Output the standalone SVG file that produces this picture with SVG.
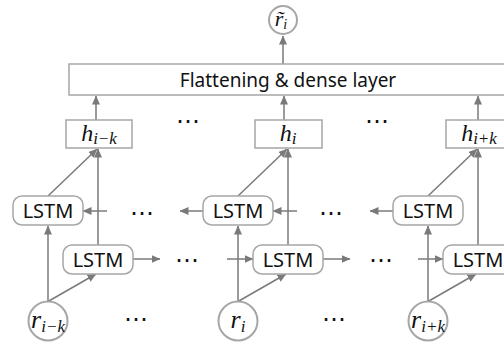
<svg xmlns="http://www.w3.org/2000/svg" width="504" height="346" viewBox="0 0 504 346">
<defs>
<marker id="ah" markerWidth="9" markerHeight="8" refX="8.5" refY="4" orient="auto" markerUnits="userSpaceOnUse">
<path d="M0,0 L9,4 L0,8 z" fill="#7a7a7a"/>
</marker>
<style>
.box{fill:#fff;stroke:#a6a6a6;stroke-width:1.5}
.lstm{fill:#fff;stroke:#a6a6a6;stroke-width:1.5}
.circ{fill:#fff;stroke:#a6a6a6;stroke-width:2}
.sans{font-family:"Noto Sans","Open Sans","DejaVu Sans",sans-serif;fill:#111}
.math{font-family:"Liberation Serif","Times New Roman",serif;font-style:italic;fill:#111}
.dots{font-family:"DejaVu Sans",sans-serif;font-size:24px;fill:#111;text-anchor:middle}
.conn line{stroke:#7a7a7a;stroke-width:1.5;marker-end:url(#ah)}
</style>
</defs>
<rect width="504" height="346" fill="#fff"/>

<g id="connectors" class="conn">
<line x1="283" y1="64" x2="283" y2="36"/>
<line x1="96" y1="120" x2="96" y2="96"/>
<line x1="284" y1="120" x2="284" y2="96"/>
<line x1="478" y1="120" x2="478" y2="96"/>
<line x1="48" y1="301.5" x2="48" y2="226"/>
<line x1="48" y1="301.5" x2="96" y2="274"/>
<line x1="98" y1="245" x2="98" y2="149"/>
<line x1="48" y1="196" x2="97" y2="149"/>
<line x1="238" y1="301.5" x2="238" y2="226"/>
<line x1="238" y1="301.5" x2="286" y2="274"/>
<line x1="288" y1="245" x2="288" y2="149"/>
<line x1="238" y1="196" x2="287" y2="149"/>
<line x1="428" y1="301.5" x2="428" y2="226"/>
<line x1="428" y1="301.5" x2="476" y2="274"/>
<line x1="478" y1="245" x2="478" y2="149"/>
<line x1="428" y1="196" x2="477" y2="149"/>
<line x1="107" y1="211" x2="83" y2="211"/>
<line x1="203" y1="211" x2="180" y2="211"/>
<line x1="297" y1="211" x2="273" y2="211"/>
<line x1="393" y1="211" x2="370" y2="211"/>
<line x1="133" y1="259" x2="160" y2="259"/>
<line x1="227" y1="259" x2="253" y2="259"/>
<line x1="323" y1="259" x2="350" y2="259"/>
<line x1="418" y1="259" x2="443" y2="259"/>
</g>

<g id="r_tilde_i">
<circle class="circ" cx="283" cy="20" r="14"/>
<text class="math" x="281" y="26" font-size="22" text-anchor="middle">r̃<tspan font-size="14" dy="3">i</tspan></text>
</g>

<g id="dense">
<rect class="box" x="69" y="64" width="450" height="31"/>
<text class="sans" x="288" y="86.5" font-size="19" text-anchor="middle">Flattening &amp; dense layer</text>
</g>

<g id="h_i_minus_k">
<rect class="box" x="66" y="120" width="66" height="28"/>
<text class="math" x="99" y="141" font-size="24" text-anchor="middle">h<tspan font-size="17" dy="3">i−k</tspan></text>
</g>
<g id="h_i">
<rect class="box" x="255" y="120" width="67" height="28"/>
<text class="math" x="288" y="141" font-size="24" text-anchor="middle">h<tspan font-size="17" dy="3">i</tspan></text>
</g>
<g id="h_i_plus_k">
<rect class="box" x="446" y="120" width="66" height="28"/>
<text class="math" x="479" y="141" font-size="24" text-anchor="middle">h<tspan font-size="17" dy="3">i+k</tspan></text>
</g>

<g id="lstm_b_left">
<rect class="lstm" x="13" y="196" width="70" height="29" rx="9"/>
<text class="sans" x="48" y="218" font-size="20" text-anchor="middle">LSTM</text>
</g>
<g id="lstm_b_mid">
<rect class="lstm" x="203" y="196" width="70" height="29" rx="9"/>
<text class="sans" x="238" y="218" font-size="20" text-anchor="middle">LSTM</text>
</g>
<g id="lstm_b_right">
<rect class="lstm" x="393" y="196" width="70" height="29" rx="9"/>
<text class="sans" x="428" y="218" font-size="20" text-anchor="middle">LSTM</text>
</g>
<g id="lstm_f_left">
<rect class="lstm" x="63" y="245" width="70" height="29" rx="9"/>
<text class="sans" x="98" y="267" font-size="20" text-anchor="middle">LSTM</text>
</g>
<g id="lstm_f_mid">
<rect class="lstm" x="253" y="245" width="70" height="29" rx="9"/>
<text class="sans" x="288" y="267" font-size="20" text-anchor="middle">LSTM</text>
</g>
<g id="lstm_f_right">
<rect class="lstm" x="443" y="245" width="70" height="29" rx="9"/>
<text class="sans" x="478" y="267" font-size="20" text-anchor="middle">LSTM</text>
</g>

<g id="r_i_minus_k">
<circle class="circ" cx="48" cy="321" r="19.5"/>
<text class="math" x="48" y="328" font-size="26" text-anchor="middle">r<tspan font-size="17" dy="4">i−k</tspan></text>
</g>
<g id="r_i">
<circle class="circ" cx="238" cy="321" r="19.5"/>
<text class="math" x="238" y="328" font-size="26" text-anchor="middle">r<tspan font-size="17" dy="4">i</tspan></text>
</g>
<g id="r_i_plus_k">
<circle class="circ" cx="428" cy="321" r="19.5"/>
<text class="math" x="428" y="328" font-size="26" text-anchor="middle">r<tspan font-size="17" dy="4">i+k</tspan></text>
</g>

<g id="ellipses">
<text class="dots" x="188" y="122.5">…</text>
<text class="dots" x="377" y="122.5">…</text>
<text class="dots" x="142" y="214.5">…</text>
<text class="dots" x="331" y="214.5">…</text>
<text class="dots" x="187" y="261.5">…</text>
<text class="dots" x="381" y="261.5">…</text>
<text class="dots" x="136" y="320.5">…</text>
<text class="dots" x="334" y="320.5">…</text>
</g>
</svg>
